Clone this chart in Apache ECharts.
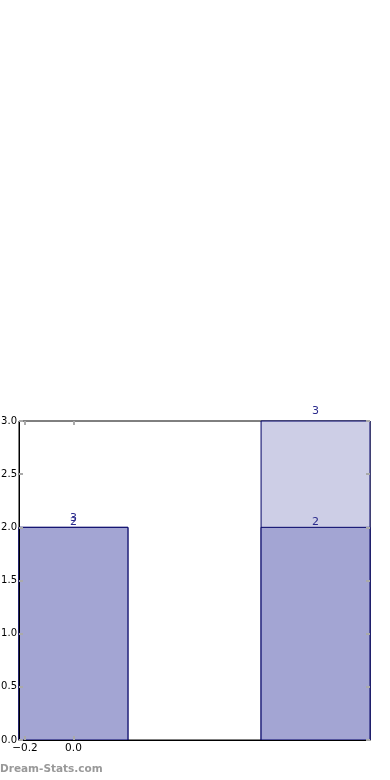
<!DOCTYPE html>
<html><head><meta charset="utf-8">
<script src="https://cdn.jsdelivr.net/npm/echarts@6/dist/echarts.min.js"></script>
<style>html,body{margin:0;padding:0;background:#fff}#c{width:390px;height:780px}</style>
</head><body><div id="c"></div>
<script>
var xPositions = [0, 1];
var darkValues = [2, 2];
var darkLabels = ['2', '2'];
var lightValues = [2, 3];
var lightLabels = ['3', '3'];
var xTickLabels = [-0.2, 0.0];
var barWidth = 0.45;

function makeData(vals, labs) {
  return xPositions.map(function (x, i) { return [x, vals[i], labs[i]]; });
}
function render(fill, labelOffset) {
  return function (params, api) {
    var x = api.value(0), y = api.value(1);
    var p0 = api.coord([x - barWidth / 2, y]);
    var p1 = api.coord([x + barWidth / 2, 0]);
    var pc = api.coord([x, y]);
    return {
      type: 'group',
      children: [
        { type: 'rect', shape: { x: p0[0], y: p0[1], width: p1[0] - p0[0], height: p1[1] - p0[1] },
          style: { fill: fill, stroke: '#000066', lineWidth: 1 } },
        { type: 'text', x: pc[0], y: pc[1] - labelOffset,
          style: { text: api.value(2), fill: '#2a2a8c', font: '11px "DejaVu Sans"', align: 'center', verticalAlign: 'bottom' } }
      ]
    };
  };
}
var chart = echarts.init(document.getElementById('c'), null, { renderer: 'canvas' });
var tickStyle = { show: true, inside: true, length: 4, lineStyle: { color: '#aaaaaa', width: 2 } };
chart.setOption({
  animation: false,
  grid: { left: 19, right: 20, top: 421, bottom: 40, containLabel: false, outerBoundsMode: 'none',
    show: true, borderColor: '#000', borderWidth: 1, backgroundColor: 'transparent' },
  xAxis: [
    { type: 'value', min: -0.225, max: 1.225, position: 'bottom', z: 10,
      axisLine: { show: true, onZero: false, lineStyle: { color: '#000' } },
      axisTick: Object.assign({ customValues: xTickLabels }, tickStyle),
      axisLabel: { customValues: xTickLabels, color: '#000', fontFamily: 'DejaVu Sans', fontSize: 10.5, margin: 3,
        formatter: function (v) { return (v < 0 ? '\u2212' : '') + Math.abs(v).toFixed(1); } },
      splitLine: { show: false } },
    { type: 'value', min: -0.225, max: 1.225, position: 'top', z: 10,
      axisLine: { show: false, onZero: false },
      axisTick: Object.assign({ customValues: xTickLabels }, tickStyle),
      axisLabel: { show: false }, splitLine: { show: false } }
  ],
  yAxis: [
    { type: 'value', min: 0, max: 3, interval: 0.5, position: 'left', z: 10,
      axisLine: { show: true, onZero: false, lineStyle: { color: '#000' } },
      axisTick: tickStyle,
      axisLabel: { color: '#000', fontFamily: 'DejaVu Sans', fontSize: 10, margin: 2,
        formatter: function (v) { return v.toFixed(1); } },
      splitLine: { show: false } },
    { type: 'value', min: 0, max: 3, interval: 0.5, position: 'right', z: 10,
      axisLine: { show: false, onZero: false }, axisTick: tickStyle, axisLabel: { show: false }, splitLine: { show: false } }
  ],
  graphic: [{ type: 'text', left: 0, top: 764,
    style: { text: 'Dream-Stats.com', fill: '#999999', font: 'bold 10.5px "DejaVu Sans"' } }],
  series: [
    { type: 'custom', renderItem: render('#cdcee6', 4), data: makeData(lightValues, lightLabels),
      encode: { x: 0, y: 1 }, z: 2 },
    { type: 'custom', renderItem: render('#a3a5d3', 0), data: makeData(darkValues, darkLabels),
      encode: { x: 0, y: 1 }, z: 3 }
  ]
});
</script></body></html>
